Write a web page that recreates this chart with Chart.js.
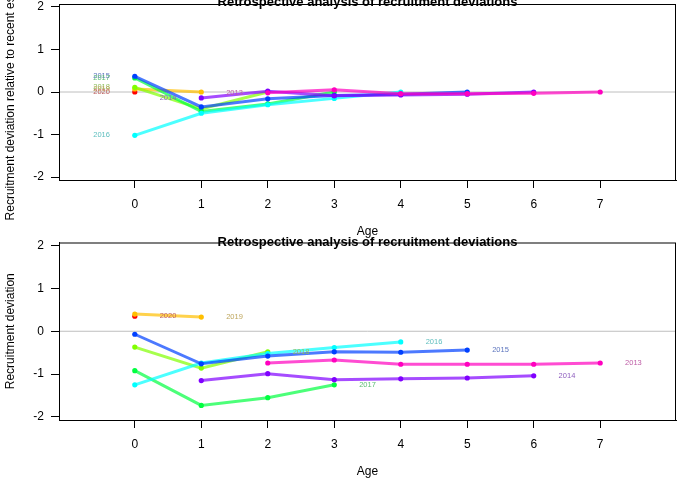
<!DOCTYPE html>
<html>
<head>
<meta charset="utf-8">
<script src="https://cdn.jsdelivr.net/npm/chart.js@4.4.1/dist/chart.umd.min.js"></script>
<style>
    html, body { margin: 0; padding: 0; background: #ffffff; }
    #wrap { position: relative; width: 680px; height: 480px; overflow: hidden; }
    #top-chart { position: absolute; left: 0; top: 0; }
    #bottom-chart { position: absolute; left: 0; top: 236px; }
</style>
</head>
<body>
<div id="wrap">
    <canvas id="top-chart" width="680" height="240"></canvas>
    <canvas id="bottom-chart" width="680" height="244"></canvas>
</div>
<script>
// Retrospective recruitment deviations, two panels

const ages = [0, 1, 2, 3, 4, 5, 6, 7];
const years = [2013, 2014, 2015, 2016, 2017, 2018, 2019, 2020];
const yTicks = [-2, -1, 0, 1, 2];

// Top panel: deviation relative to the most recent estimate (by age)
const rel2013 = [null, null, -0.02, 0.05, -0.04, -0.04, -0.03, 0.00];
const rel2014 = [null, -0.14, 0.02, -0.09, -0.07, -0.05, 0.00];
const rel2015 = [0.37, -0.35, -0.16, -0.08, -0.05, 0.00];
const rel2016 = [-1.02, -0.50, -0.30, -0.15, 0.00];
const rel2017 = [0.33, -0.46, -0.28, 0.00];
const rel2018 = [0.11, -0.40, 0.00];
const rel2019 = [0.07, 0.00];
const rel2020 = [0.00];

// Bottom panel: recruitment deviation (by age)
const dev2013 = [null, null, -0.74, -0.67, -0.77, -0.77, -0.77, -0.74];
const dev2014 = [null, -1.15, -0.99, -1.13, -1.11, -1.09, -1.04];
const dev2015 = [-0.07, -0.76, -0.58, -0.48, -0.49, -0.44];
const dev2016 = [-1.25, -0.74, -0.52, -0.38, -0.25];
const dev2017 = [-0.92, -1.73, -1.55, -1.25];
const dev2018 = [-0.37, -0.86, -0.48];
const dev2019 = [0.40, 0.33];
const dev2020 = [0.35];

const relSeries = [rel2013, rel2014, rel2015, rel2016, rel2017, rel2018, rel2019, rel2020];
const devSeries = [dev2013, dev2014, dev2015, dev2016, dev2017, dev2018, dev2019, dev2020];

// rainbow colours, 2013 .. 2020
const baseRGB = [
    [255, 0, 191], [128, 0, 255], [0, 64, 255], [0, 255, 255],
    [0, 255, 64], [128, 255, 0], [255, 191, 0], [255, 0, 0]
];

const FONT = '"Liberation Sans", Arial, sans-serif';

function labelColor(rgb) {
    // muted version of the line colour, like the small year labels
    const g = 150, k = 0.62;
    const mix = c => Math.round(c * (1 - k) + g * k);
    return `rgb(${mix(rgb[0])},${mix(rgb[1])},${mix(rgb[2])})`;
}

function buildDatasets(series) {
    return series.map((vals, i) => {
        const rgb = baseRGB[i];
        return {
            label: String(years[i]),
            data: vals.map((v, j) => ({ x: ages[j], y: v })),
            borderColor: `rgba(${rgb[0]},${rgb[1]},${rgb[2]},0.7)`,
            backgroundColor: `rgb(${rgb[0]},${rgb[1]},${rgb[2]})`,
            pointBackgroundColor: `rgb(${rgb[0]},${rgb[1]},${rgb[2]})`,
            pointBorderWidth: 0,
            pointRadius: 2.6,
            borderWidth: 3,
            spanGaps: false,
            tension: 0
        };
    });
}

// box, zero line, clipped main title and year labels
const panelPlugin = {
    id: 'panel',
    beforeDatasetsDraw(chart) {
        const { ctx, chartArea, scales } = chart;
        const y0 = scales.y.getPixelForValue(0);
        ctx.save();
        ctx.strokeStyle = '#bebebe';
        ctx.lineWidth = 1;
        ctx.beginPath();
        ctx.moveTo(chartArea.left, y0);
        ctx.lineTo(chartArea.right, y0);
        ctx.stroke();
        ctx.restore();
    },
    afterDatasetsDraw(chart, args, opts) {
        const { ctx, scales } = chart;
        ctx.save();
        ctx.font = `7.5px ${FONT}`;
        ctx.textAlign = 'center';
        ctx.textBaseline = 'middle';
        opts.series.forEach((vals, i) => {
            let j, age;
            if (opts.labelAt === 'first') {
                j = vals.findIndex(v => v !== null);
                age = ages[j] - 0.5;
            } else {
                j = vals.length - 1;
                age = ages[j] + 0.5;
            }
            ctx.fillStyle = labelColor(baseRGB[i]);
            ctx.fillText(String(years[i]), scales.x.getPixelForValue(age), scales.y.getPixelForValue(vals[j]));
        });
        ctx.restore();
    },
    afterDraw(chart, args, opts) {
        const { ctx, chartArea } = chart;
        ctx.save();
        ctx.strokeStyle = '#000000';
        ctx.lineWidth = 1;
        ctx.strokeRect(chartArea.left + 0.5, chartArea.top + 0.5,
            chartArea.right - chartArea.left - 1, chartArea.bottom - chartArea.top);
        ctx.fillStyle = '#000000';
        ctx.font = `bold 13px ${FONT}`;
        ctx.textAlign = 'center';
        ctx.textBaseline = 'alphabetic';
        ctx.fillText('Retrospective analysis of recruitment deviations',
            (chartArea.left + chartArea.right) / 2, opts.titleY);
        ctx.restore();
    }
};

function makeChart(canvasId, series, yTitle, labelAt, pad, axisHeight, titleY) {
    const ctx = document.getElementById(canvasId).getContext('2d');
    return new Chart(ctx, {
        type: 'line',
        data: { datasets: buildDatasets(series) },
        plugins: [panelPlugin],
        options: {
            responsive: false,
            animation: false,
            devicePixelRatio: 1,
            layout: { padding: pad },
            plugins: {
                legend: { display: false },
                tooltip: { enabled: false },
                panel: { series: series, labelAt: labelAt, titleY: titleY }
            },
            scales: {
                x: {
                    type: 'linear',
                    min: -1.14,
                    max: 8.14,
                    afterBuildTicks: (scale) => { scale.ticks = ages.map(a => ({ value: a })); },
                    afterFit: (scale) => {
                        scale.height = axisHeight;
                        scale.paddingLeft = 0;
                        scale.paddingRight = 0;
                    },
                    grid: { drawOnChartArea: false, drawTicks: true, tickLength: 8, color: '#000000' },
                    border: { display: true, color: '#000000' },
                    ticks: { color: '#000000', padding: 9, font: { family: FONT, size: 12 }, maxRotation: 0 },
                    title: { display: true, text: 'Age', color: '#000000', font: { family: FONT, size: 12 }, padding: { top: 0, bottom: 1 } }
                },
                y: {
                    min: -2.07,
                    max: 2.07,
                    afterBuildTicks: (scale) => { scale.ticks = yTicks.map(v => ({ value: v })); },
                    afterFit: (scale) => {
                        scale.width = 59;
                        scale.paddingTop = 0;
                        scale.paddingBottom = 0;
                    },
                    grid: { drawOnChartArea: false, drawTicks: true, tickLength: 8, color: '#000000' },
                    border: { display: true, color: '#000000' },
                    ticks: { color: '#000000', padding: 7, font: { family: FONT, size: 12 } },
                    title: { display: true, text: yTitle, color: '#000000', font: { family: FONT, size: 12 }, padding: { top: 3, bottom: 0 } }
                }
            }
        }
    });
}

makeChart('top-chart', relSeries, 'Recruitment deviation relative to recent estimate', 'first',
    { top: 2, right: 3, left: 0, bottom: 0 }, 60, 6);
makeChart('bottom-chart', devSeries, 'Recruitment deviation', 'last',
    { top: 6.5, right: 3, left: 0, bottom: 0 }, 60, 10);
</script>
</body>
</html>
